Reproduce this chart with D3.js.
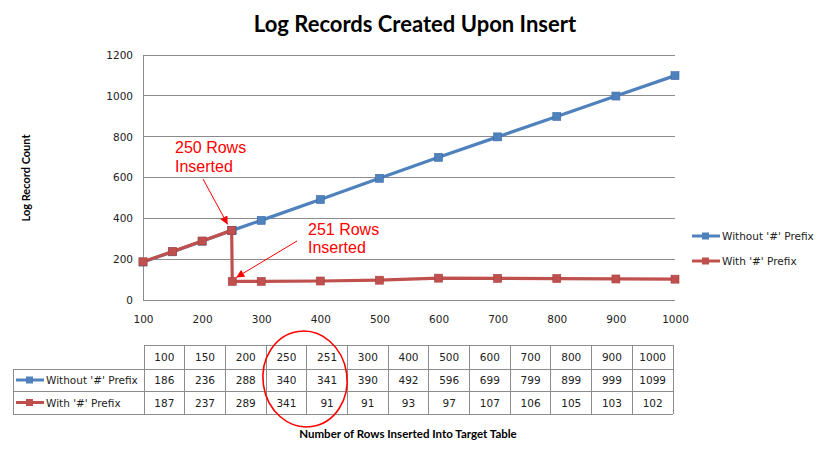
<!DOCTYPE html>
<html><head><meta charset="utf-8">
<script src="https://cdn.jsdelivr.net/npm/d3@7"></script>
<style>
html,body{margin:0;padding:0;background:#fff;}
svg{display:block;}
</style></head>
<body>
<svg id="c" width="830" height="457"></svg>
<script>
const categories = [100,150,200,250,251,300,400,500,600,700,800,900,1000];
const seriesNames = ["Without '#' Prefix","With '#' Prefix"];
const withoutPrefix = [186,236,288,340,341,390,492,596,699,799,899,999,1099];
const withPrefix = [187,237,289,341,91,91,93,97,107,106,105,103,102];
const yTicks = [0,200,400,600,800,1000,1200];
const xTicks = [100,200,300,400,500,600,700,800,900,1000];
const colors = ["#4F81BD","#C0504D"];
const markerStroke = ["#3A6CA8","#A8403D"];

const svg = d3.select("#c");
const x = d3.scaleLinear().domain([100,1000]).range([143,675]);
const y = d3.scaleLinear().domain([0,1200]).range([300,55]);
const font = "'DejaVu Sans', Verdana, sans-serif";
const boldFont = "Lato, 'Open Sans', sans-serif";

// title
svg.append("text").attr("x",415).attr("y",32).attr("text-anchor","middle")
  .attr("font-family",boldFont).attr("font-weight","bold").attr("font-size",22)
  .attr("fill","#000").text("Log Records Created Upon Insert");

// gridlines
svg.append("g").selectAll("line").data(yTicks).join("line")
  .attr("x1",143).attr("x2",675).attr("y1",d=>y(d)).attr("y2",d=>y(d))
  .attr("stroke","#8c8c8c").attr("stroke-width",1).attr("shape-rendering","crispEdges");
// y axis line
svg.append("line").attr("x1",143).attr("x2",143).attr("y1",55).attr("y2",300)
  .attr("stroke","#8c8c8c").attr("shape-rendering","crispEdges");

// y labels
const yAxis = d3.axisLeft(y).tickValues(yTicks).tickFormat(d3.format("d")).tickSize(0).tickPadding(10);
const gy = svg.append("g").attr("transform","translate(143,0)").call(yAxis);
gy.select(".domain").remove();
gy.selectAll("text").attr("font-family",font).attr("font-size",10.5).attr("fill","#222");

// x labels
const xAxis = d3.axisBottom(x).tickValues(xTicks).tickFormat(d3.format("d")).tickSize(0).tickPadding(16);
const gx = svg.append("g").attr("transform","translate(0,300)").call(xAxis);
gx.select(".domain").remove();
gx.selectAll("text").attr("font-family",font).attr("font-size",10.5).attr("fill","#222");

// y title
svg.append("text").attr("transform","translate(30,178) rotate(-90)").attr("text-anchor","middle")
  .attr("font-family",boldFont).attr("font-weight","bold").attr("font-size",11)
  .attr("fill","#000").text("Log Record Count");

// series
const series = [withoutPrefix, withPrefix];
const line = d3.line().x((d,i)=>x(categories[i])).y(d=>y(d));
series.forEach((s,k)=>{
  const g = svg.append("g");
  g.append("path").attr("d",line(s)).attr("fill","none").attr("stroke",colors[k])
    .attr("stroke-width",3.2).attr("stroke-linejoin","round");
  g.selectAll("rect").data(s).join("rect")
    .attr("x",(d,i)=>x(categories[i])-4).attr("y",d=>y(d)-4)
    .attr("width",8).attr("height",8).attr("fill",colors[k])
    .attr("stroke",markerStroke[k]).attr("stroke-width",0.6);
});

// right legend
const leg = svg.append("g");
seriesNames.forEach((n,k)=>{
  const ly = 236 + k*25;
  leg.append("line").attr("x1",692).attr("x2",720).attr("y1",ly).attr("y2",ly)
    .attr("stroke",colors[k]).attr("stroke-width",3);
  leg.append("rect").attr("x",702).attr("y",ly-3.5).attr("width",7).attr("height",7).attr("fill",colors[k]);
  leg.append("text").attr("x",722).attr("y",ly+4).attr("font-family",font).attr("font-size",10.5)
    .attr("fill","#222").text(n);
});

// data table
const col = d3.scaleBand().domain(categories).range([144,673]);
const rowsY = [345,369,391,414];
const tbl = svg.append("g").attr("shape-rendering","crispEdges");
const gridC = "#8c8c8c";
tbl.append("line").attr("x1",144).attr("x2",673).attr("y1",rowsY[0]).attr("y2",rowsY[0]).attr("stroke",gridC);
[1,2,3].forEach(r=>{
  tbl.append("line").attr("x1",13).attr("x2",673).attr("y1",rowsY[r]).attr("y2",rowsY[r]).attr("stroke",gridC);
});
tbl.append("line").attr("x1",13).attr("x2",13).attr("y1",rowsY[1]).attr("y2",rowsY[3]).attr("stroke",gridC);
categories.forEach(c=>{
  tbl.append("line").attr("x1",col(c)).attr("x2",col(c)).attr("y1",rowsY[0]).attr("y2",rowsY[3]).attr("stroke",gridC);
});
tbl.append("line").attr("x1",673).attr("x2",673).attr("y1",rowsY[0]).attr("y2",rowsY[3]).attr("stroke",gridC);

const cellText = (txt,cx,r)=>svg.append("text").attr("x",cx).attr("y",(rowsY[r]+rowsY[r+1])/2+4)
  .attr("text-anchor","middle").attr("font-family",font).attr("font-size",10.5).attr("fill","#222").text(txt);
categories.forEach((c,i)=>{
  const cx = col(c)+col.bandwidth()/2;
  cellText(c,cx,0);
  cellText(withoutPrefix[i],cx,1);
  cellText(withPrefix[i],cx,2);
});
seriesNames.forEach((n,k)=>{
  const ly = (rowsY[k+1]+rowsY[k+2])/2;
  svg.append("line").attr("x1",16).attr("x2",44).attr("y1",ly).attr("y2",ly)
    .attr("stroke",colors[k]).attr("stroke-width",3);
  svg.append("rect").attr("x",26).attr("y",ly-3.5).attr("width",7).attr("height",7).attr("fill",colors[k]);
  svg.append("text").attr("x",46).attr("y",ly+4).attr("font-family",font).attr("font-size",10.5)
    .attr("fill","#222").text(n);
});

// x title
svg.append("text").attr("x",408).attr("y",438).attr("text-anchor","middle")
  .attr("font-family",boldFont).attr("font-weight","bold").attr("font-size",11.5)
  .attr("fill","#000").text("Number of Rows Inserted Into Target Table");

// annotations
const red = "#FF0000";
const ann = svg.append("g").attr("font-family","'Liberation Sans', Arial, sans-serif").attr("font-size",16).attr("fill",red);
ann.append("text").attr("x",175).attr("y",153).text("250 Rows");
ann.append("text").attr("x",175).attr("y",172).text("Inserted");
ann.append("text").attr("x",308).attr("y",235).text("251 Rows");
ann.append("text").attr("x",308).attr("y",253).text("Inserted");

svg.append("defs").append("marker").attr("id","ah").attr("viewBox","0 0 10 10")
  .attr("refX",10).attr("refY",5).attr("markerWidth",10).attr("markerHeight",8)
  .attr("markerUnits","userSpaceOnUse").attr("orient","auto")
  .append("path").attr("d","M0,0 L10,5 L0,10 z").attr("fill",red);
svg.append("line").attr("x1",203).attr("y1",179).attr("x2",x(250)-4).attr("y2",y(341)-6)
  .attr("stroke",red).attr("stroke-width",1).attr("marker-end","url(#ah)");
svg.append("line").attr("x1",297).attr("y1",241).attr("x2",x(251)+4).attr("y2",y(91)-4)
  .attr("stroke",red).attr("stroke-width",1).attr("marker-end","url(#ah)");

// red circle
svg.append("ellipse").attr("cx",305).attr("cy",379).attr("rx",42).attr("ry",48)
  .attr("transform","rotate(-8,305,379)")
  .attr("fill","none").attr("stroke",red).attr("stroke-width",1.6);
</script>
</body></html>
